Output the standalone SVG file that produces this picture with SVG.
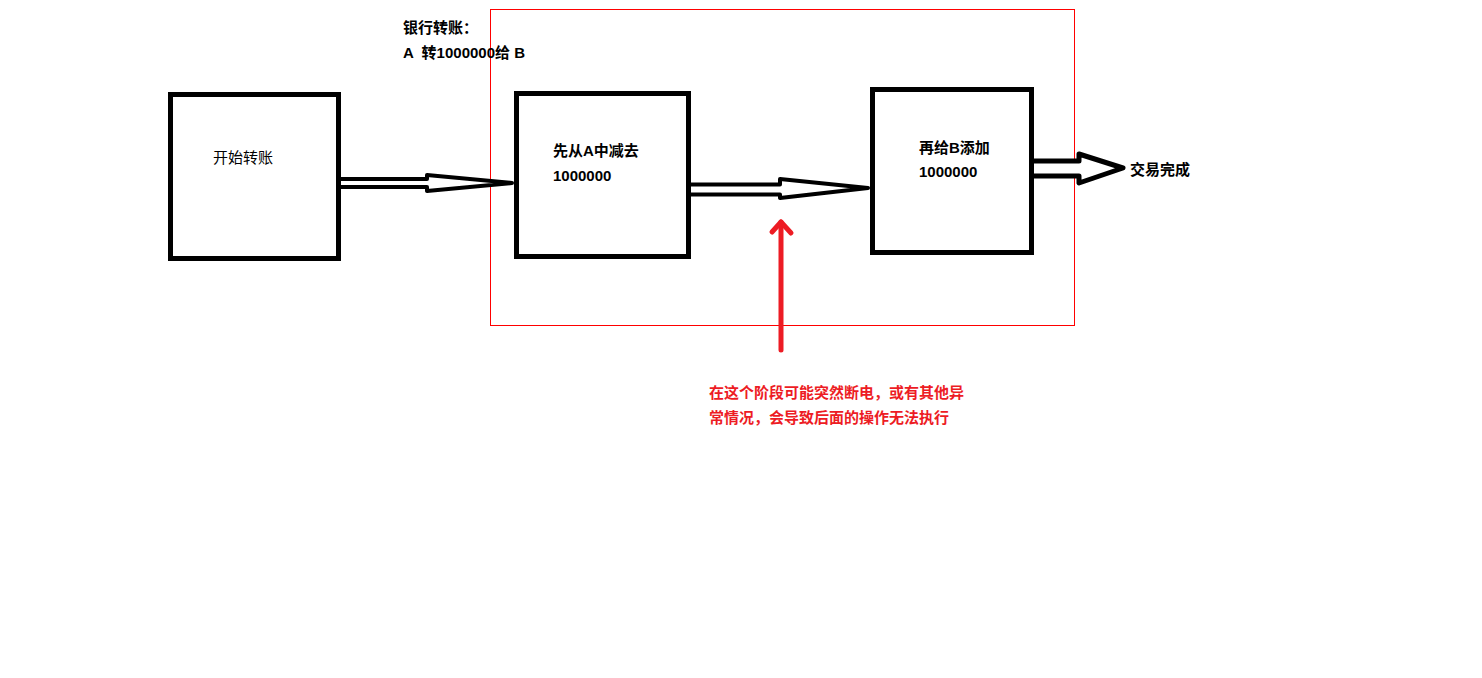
<svg xmlns="http://www.w3.org/2000/svg" width="1482" height="678" viewBox="0 0 1482 678">
<style>
.box{fill:#fff;stroke:#000;stroke-width:5}
.t{font-family:"Liberation Sans","Noto Sans CJK SC",sans-serif;font-size:15px;font-weight:bold;fill:#000}
.tn{font-family:"Liberation Sans","Noto Sans CJK SC",sans-serif;font-size:15px;font-weight:normal;fill:#000}
.r{font-family:"Liberation Sans","Noto Sans CJK SC",sans-serif;font-size:15px;font-weight:bold;fill:#ed1c24}
.arr{fill:#fff;stroke:#000;stroke-width:4;stroke-linejoin:round}
</style>
<rect width="1482" height="678" fill="#fff"/>
<rect x="490.5" y="9.5" width="584" height="316" fill="none" stroke="#ff0000" stroke-width="1"/>
<g id="title">
<text class="t" x="403" y="33">银行转账：</text>
<text class="t" x="403" y="58" xml:space="preserve">A  转1000000给 B</text>
</g>
<g id="connectors">
<path class="arr" d="M341,179 L427,179 L427,175 L512,183 L427,191 L427,187 L341,187"/>
<path class="arr" d="M691,184.5 L780,184.5 L780,179 L868,188 L780,198 L780,194.5 L691,194.5"/>
<path class="arr" style="stroke-width:5" d="M1034,161 L1079,161 L1079,154 L1123,168 L1079,183 L1079,176 L1034,176"/>
<g stroke="#ed1c24" stroke-width="5" stroke-linecap="round" stroke-linejoin="round" fill="none">
<line x1="781" y1="350" x2="781" y2="222"/>
<polyline points="772,232 781,222 791,233"/>
</g>
</g>
<g id="n1">
<rect class="box" x="170.5" y="94.5" width="168" height="164"/>
<text class="tn" x="213" y="163">开始转账</text>
</g>
<g id="n2">
<rect class="box" x="516.5" y="93.5" width="172" height="163"/>
<text class="t" x="553" y="156">先从A中减去</text>
<text class="t" x="553" y="181">1000000</text>
</g>
<g id="n3">
<rect class="box" x="872.5" y="89.5" width="159" height="163"/>
<text class="t" x="919" y="153">再给B添加</text>
<text class="t" x="919" y="177">1000000</text>
</g>
<g id="n4">
<text class="t" x="1130" y="175">交易完成</text>
</g>
<g id="note">
<text class="r" x="709" y="398">在这个阶段可能突然断电，或有其他异</text>
<text class="r" x="709" y="423">常情况，会导致后面的操作无法执行</text>
</g>
</svg>
